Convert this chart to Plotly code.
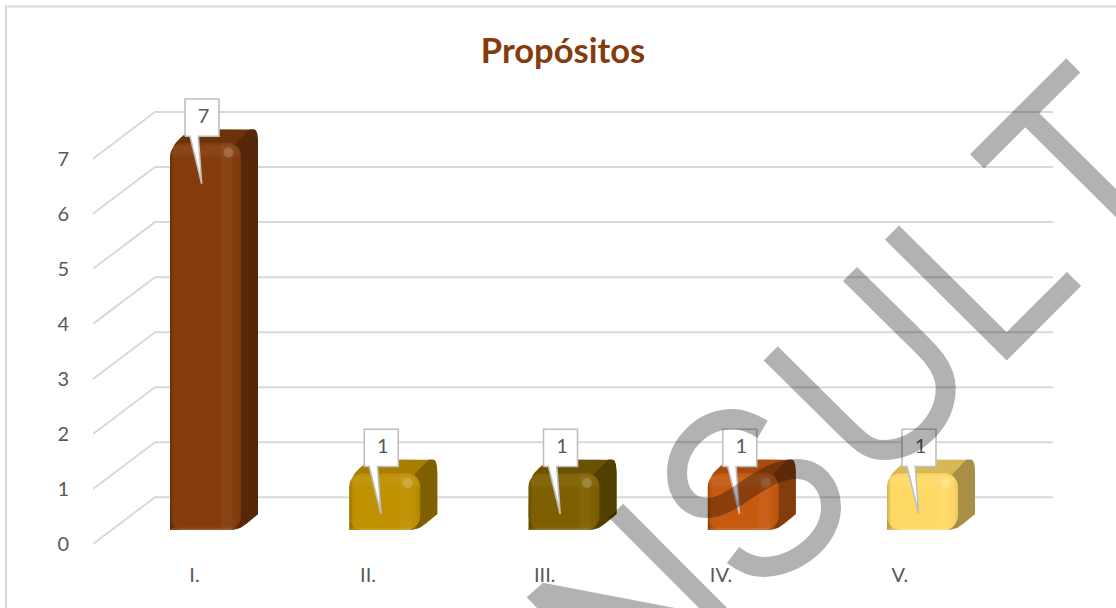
import math
import plotly.graph_objects as go

# ---- data ----
categories = ["I.", "II.", "III.", "IV.", "V."]
values = [7, 1, 1, 1, 1]
y_ticks = [0, 1, 2, 3, 4, 5, 6, 7]
title_text = "Propósitos"

# ---- style ----
front_colors = ["#843C0C", "#BF9000", "#7F6000", "#C55A11", "#FFD966"]
top_colors = ["#6E3209", "#A67F00", "#6C5200", "#A84C0E", "#D6B857"]
side_colors = ["#562709", "#7F6000", "#524000", "#843C0C", "#A98F45"]
label_nudges = [-11, -16.7, -19.3, -22.2, -22.7]
FONT = "Lato, Carlito, sans-serif"
TEXT = "#595959"
GRID = "#D9D9D9"

# ---- scale geometry (pixels) ----
W, H = 1116, 608
LEFT, ZERO = 93, 544
UNIT = 55.04
STEP = 179.25
X0 = 205.5
BASE = (ZERO - 530) / UNIT
x_range = [(LEFT - X0) / STEP, (W - X0) / STEP]
y_range = [0, ZERO / UNIT]
x_domain = [LEFT / W, 1]
y_domain = [(H - ZERO) / H, 1]
HALF = 35.5
DX, DY = 62, 46.7


def rounded(pts):
    out = []
    n = len(pts)
    for k, (x, y, r) in enumerate(pts):
        if r <= 0:
            out.append((x, y))
            continue
        px, py, _ = pts[k - 1]
        nx, ny, _ = pts[(k + 1) % n]
        lp = math.hypot(px - x, py - y)
        ln = math.hypot(nx - x, ny - y)
        ax, ay = x + (px - x) * min(r, lp / 2) / lp, y + (py - y) * min(r, lp / 2) / lp
        bx, by = x + (nx - x) * min(r, ln / 2) / ln, y + (ny - y) * min(r, ln / 2) / ln
        for s in range(9):
            t = s / 8
            out.append(((1 - t) ** 2 * ax + 2 * t * (1 - t) * x + t * t * bx,
                        (1 - t) ** 2 * ay + 2 * t * (1 - t) * y + t * t * by))
    return out


def to_data(i, pts):
    xs = [i + p[0] / STEP for p in pts]
    ys = [BASE + p[1] / UNIT for p in pts]
    return xs + xs[:1], ys + ys[:1]


def poly(fig, i, pts, xa, ya, color=None, gradient=None, line=None):
    xs, ys = to_data(i, pts)
    kw = dict(x=xs, y=ys, mode="lines", fill="toself", hoverinfo="skip",
              showlegend=False, xaxis=xa, yaxis=ya)
    kw["line"] = line or dict(width=0)
    if gradient:
        kw["fillgradient"] = gradient
        kw["fillcolor"] = "rgba(0,0,0,0)"
    else:
        kw["fillcolor"] = color
    fig.add_trace(go.Scatter(**kw))


fig = go.Figure()

# gridlines: side wall diagonal + back wall, one per tick
gx, gy = [], []
for v in y_ticks:
    gx += [(LEFT - X0) / STEP, (LEFT + DX - X0) / STEP, (1053 - X0) / STEP, None]
    gy += [v, v + DY / UNIT, v + DY / UNIT, None]
fig.add_trace(go.Scatter(x=gx, y=gy, mode="lines", line=dict(color=GRID, width=2),
                         hoverinfo="skip", showlegend=False, xaxis="x", yaxis="y"))

# bar depth: top and side faces, behind the front faces
for i, v in enumerate(values):
    h = v * UNIT
    back = rounded([(-HALF, 0, 0), (-HALF, h - 2, 16), (-15, h + 15.5, 8), (52.5, h + 15.5, 13),
                    (52.5, 16, 0), (36, 2, 7), (26, 0, 0)])
    poly(fig, i, back, "x", "y", color=top_colors[i])
    side = rounded([(30, h + 1, 0), (44, h + 15.5, 0), (52.5, h + 15.5, 13), (52.5, 16, 0),
                    (36, 2, 7), (26, 0, 0)])
    poly(fig, i, side, "x", "y", color=side_colors[i])

# front faces: the real bars
fig.add_trace(go.Bar(x=list(range(len(values))), y=[v + 2 / UNIT for v in values], base=BASE,
                     width=2 * HALF / STEP, marker=dict(color=front_colors, cornerradius=14, line=dict(width=0)),
                     hoverinfo="skip", showlegend=False, xaxis="x2", yaxis="y2"))

# bevel shading and callouts
for i, v in enumerate(values):
    h = v * UNIT
    face = rounded([(-HALF, 0, 2), (-HALF, h + 2, 14), (HALF, h + 2, 14), (HALF, 0, 7)])
    poly(fig, i, face, "x3", "y3", gradient=dict(
        type="horizontal",
        colorscale=[[0, "rgba(0,0,0,0.20)"], [0.06, "rgba(0,0,0,0)"], [0.70, "rgba(255,255,255,0)"],
                    [0.74, "rgba(255,255,255,0.04)"], [0.86, "rgba(255,255,255,0.04)"],
                    [0.92, "rgba(0,0,0,0)"], [1, "rgba(0,0,0,0.08)"]]))
    full = h + 2
    poly(fig, i, face, "x3", "y3", gradient=dict(
        type="vertical",
        colorscale=[[0, "rgba(255,255,255,0.18)"], [3 / full, "rgba(255,255,255,0)"],
                    [1 - 15 / full, "rgba(255,255,255,0)"], [1 - 11 / full, "rgba(255,255,255,0.05)"],
                    [1 - 4 / full, "rgba(255,255,255,0.05)"], [1, "rgba(0,0,0,0.05)"]]))
    fig.add_trace(go.Scatter(
        x=[i + 23 / STEP], y=[BASE + (h - 8) / UNIT], mode="markers", hoverinfo="skip", showlegend=False,
        marker=dict(size=10, color="rgba(255,255,255,0.22)", opacity=0.8, line=dict(width=0)),
        xaxis="x3", yaxis="y3"))

for i, v in enumerate(values):
    h = v * UNIT
    call = [(-20.5, h + 8.5), (-15.5, h + 8.5), (-3.8, h - 39), (-7.2, h + 8.5), (13.5, h + 8.5),
            (13.5, h + 45.7), (-20.5, h + 45.7)]
    poly(fig, i, call, "x3", "y3", color="#FFFFFF", line=dict(color="#BFBFBF", width=1.6))
    fig.add_trace(go.Scatter(
        x=[i - 2 / STEP], y=[BASE + (h + 27) / UNIT], mode="text", text=[str(v)],
        textposition="middle center", textfont=dict(family=FONT, size=20, color=TEXT),
        hoverinfo="skip", showlegend=False, xaxis="x3", yaxis="y3"))


# ---- watermark and chart frame, in paper coordinates ----
def path(d):
    parts = []
    for cmd, pts in d:
        parts.append(cmd + " ".join(f"{x / W:.5f},{1 - y / H:.5f}" for x, y in pts))
    return " ".join(parts)


MARK = "rgba(0,0,0,0.30)"
strokes = [
    [("M", [(1073.3, 65.3)]), ("L", [(977, 161.3)]),
     ("M", [(1025, 113)]), ("L", [(1130, 217)])],
    [("M", [(892, 232.5)]), ("L", [(1006.7, 346.3)]), ("L", [(1074, 279)])],
    [("M", [(770.7, 353.3)]), ("L", [(840, 422)]),
     ("C", [(858, 440), (868, 450), (883, 450)]),
     ("C", [(918, 450), (945.7, 420), (945.7, 388)]),
     ("C", [(945.7, 365), (925, 348), (906.7, 330)]), ("L", [(850, 274)])],
    [("M", [(762.7, 429.3)]),
     ("C", [(752, 423), (743, 419), (733, 419)]),
     ("C", [(702, 419), (677, 445), (677, 473)]),
     ("C", [(677, 495), (690, 508), (707, 508)]),
     ("C", [(735, 508), (760, 469), (797, 469)]),
     ("C", [(816, 469), (831, 485), (831, 507)]),
     ("C", [(831, 540), (795, 567), (763, 567)]),
     ("C", [(752, 567), (742, 562), (733, 555)])],
    [("M", [(616, 510.7)]), ("L", [(730, 625)])],
]
shapes = [dict(type="path", xref="paper", yref="paper", layer="above", path=path(s),
               line=dict(color=MARK, width=20), fillcolor="rgba(0,0,0,0)") for s in strokes]
wedge = path([("M", [(543, 582.7)]), ("L", [(675, 608)]), ("L", [(537, 608)]), ("L", [(526.7, 597.3)])]) + " Z"
shapes.append(dict(type="path", xref="paper", yref="paper", layer="above", line=dict(width=0), fillcolor=MARK,
                   path=wedge))
frame = path([("M", [(6, H)]), ("L", [(6, 6.5)]), ("L", [(W, 6.5)])])
shapes.append(dict(type="path", xref="paper", yref="paper", layer="below", path=frame,
                   line=dict(color=GRID, width=2), fillcolor="rgba(0,0,0,0)"))

hidden = dict(visible=False, showgrid=False, zeroline=False, fixedrange=True, automargin=False)
fig.update_layout(
    width=W, height=H, margin=dict(l=0, r=0, t=0, b=0, autoexpand=False),
    paper_bgcolor="white", plot_bgcolor="rgba(0,0,0,0)", barmode="overlay", showlegend=False,
    font=dict(family=FONT, color=TEXT),
    title=dict(text=f"<b>{title_text}</b>", x=563 / W, xanchor="center", xref="paper", automargin=False,
               y=1 - 51 / H, yanchor="middle", font=dict(family=FONT, size=34.5, color="#843C0C")),
    xaxis=dict(domain=x_domain, range=x_range, showgrid=False, zeroline=False, showline=False, automargin=False,
               tickmode="array", tickvals=[i + n / STEP for i, n in enumerate(label_nudges)],
               ticktext=categories, ticks="outside", ticklen=13, tickcolor="rgba(0,0,0,0)",
               tickfont=dict(family=FONT, size=20, color=TEXT), fixedrange=True),
    yaxis=dict(domain=y_domain, range=y_range, showgrid=False, zeroline=False, showline=False, automargin=False,
               tickmode="array", tickvals=y_ticks, ticktext=[str(t) for t in y_ticks],
               ticks="outside", ticklen=19, tickcolor="rgba(0,0,0,0)",
               tickfont=dict(family=FONT, size=20, color=TEXT), fixedrange=True),
    xaxis2=dict(domain=x_domain, range=x_range, overlaying="x", anchor="y2", **hidden),
    yaxis2=dict(domain=y_domain, range=y_range, overlaying="y", anchor="x2", **hidden),
    xaxis3=dict(domain=x_domain, range=x_range, overlaying="x", anchor="y3", **hidden),
    yaxis3=dict(domain=y_domain, range=y_range, overlaying="y", anchor="x3", **hidden),
    shapes=shapes,
)

fig.write_html("out.html", config=dict(displayModeBar=False),
               post_script="document.body.style.margin='0';document.body.style.overflow='hidden';")
